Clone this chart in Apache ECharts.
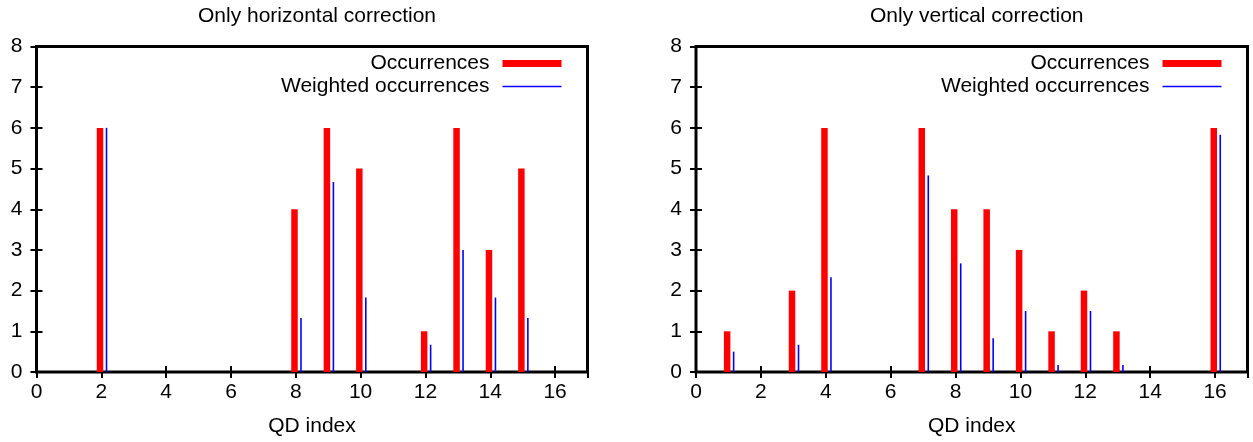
<!DOCTYPE html>
<html>
<head>
<meta charset="utf-8">
<script src="https://cdn.jsdelivr.net/npm/echarts@6/dist/echarts.min.js"></script>
<style>
  html, body { margin: 0; padding: 0; background: #fff; }
  #chart { width: 1253px; height: 442px; }
</style>
</head>
<body>
<div id="chart"></div>
<script>
// QD indices 0..16
const qdIndex = [0, 1, 2, 3, 4, 5, 6, 7, 8, 9, 10, 11, 12, 13, 14, 15, 16];

// Panel 1: only horizontal correction
const horizOccurrences = [0, 0, 6, 0, 0, 0, 0, 0, 4, 6, 5, 0, 1, 6, 3, 5, 0];
const horizWeighted    = [0, 0, 6, 0, 0, 0, 0, 0, 1.33, 4.67, 1.83, 0, 0.67, 3, 1.83, 1.33, 0];

// Panel 2: only vertical correction
const vertOccurrences = [0, 1, 0, 2, 6, 0, 0, 6, 4, 4, 3, 1, 2, 1, 0, 0, 6];
const vertWeighted    = [0, 0.5, 0, 0.67, 2.33, 0, 0, 4.83, 2.67, 0.83, 1.5, 0.17, 1.5, 0.17, 0, 0, 5.83];

const panelTitles = ['Only horizontal correction', 'Only vertical correction'];
const xAxisName = 'QD index';
const seriesNames = ['Occurrences', 'Weighted occurrences'];
const xTicks = [0, 2, 4, 6, 8, 10, 12, 14, 16];
const yTicks = [0, 1, 2, 3, 4, 5, 6, 7, 8];

const FONT = '"Liberation Sans", Arial, Helvetica, sans-serif';
const FS = 21;

function pairs(values) {
  return qdIndex.map((q, i) => [q, values[i]]).filter(p => p[1] > 0);
}

// thick red box slightly left of the index, thin blue impulse to its right
function boxRenderer(offset, halfWidth) {
  return function (params, api) {
    const x = api.value(0), v = api.value(1);
    const p0 = api.coord([x + offset - halfWidth, v]);
    const p1 = api.coord([x + offset + halfWidth, 0]);
    return {
      type: 'rect',
      shape: { x: p0[0], y: p0[1], width: p1[0] - p0[0], height: p1[1] - p0[1] },
      style: { fill: '#ff0000' }
    };
  };
}
function impulseRenderer(offset, px) {
  return function (params, api) {
    const x = api.value(0), v = api.value(1);
    const top = api.coord([x + offset, v]);
    const bot = api.coord([x + offset, 0]);
    return {
      type: 'rect',
      shape: { x: top[0] - px / 2, y: top[1], width: px, height: bot[1] - top[1] },
      style: { fill: '#0000ff' }
    };
  };
}

const grids = [
  { left: 36.5, width: 551, top: 46.5, height: 327.5 },
  { left: 696, width: 551.5, top: 46.5, height: 327.5 }
];

const option = {
  animation: false,
  backgroundColor: '#ffffff',
  textStyle: { fontFamily: FONT, color: '#000' },
  title: grids.map((g, i) => ({
    text: panelTitles[i],
    left: g.left + g.width / 2,
    textAlign: 'center',
    top: 1,
    textStyle: { fontFamily: FONT, fontSize: FS, fontWeight: 'normal', color: '#000' }
  })),
  grid: grids.map(g => Object.assign({ show: true, borderColor: '#000', borderWidth: 3, backgroundColor: 'transparent' }, g)),
  legend: [],
  xAxis: [],
  yAxis: [],
  series: []
};

grids.forEach((g, gi) => {
  const rightEdge = 1253 - (g.left + g.width);
  // legend rows: thick red sample, thin blue sample
  option.legend.push({
    data: [seriesNames[0]], orient: 'vertical', align: 'right',
    right: rightEdge + 21, top: 48, itemWidth: 59, itemHeight: 7, icon: 'rect',
    textStyle: { fontFamily: FONT, fontSize: FS, color: '#000', padding: [0, 8, 0, 0] },
    selectedMode: false
  });
  option.legend.push({
    data: [seriesNames[1]], orient: 'vertical', align: 'right',
    right: rightEdge + 21, top: 71, itemWidth: 59, itemHeight: 1.5, icon: 'rect',
    textStyle: { fontFamily: FONT, fontSize: FS, color: '#000', padding: [0, 8, 0, 0] },
    selectedMode: false
  });

  const tickLabel = v => (xTicks.indexOf(v) >= 0 ? String(v) : '');
  option.xAxis.push({
    type: 'value', gridIndex: gi, min: 0, max: 17, interval: 2, position: 'bottom',
    name: xAxisName, nameLocation: 'middle', nameGap: 44,
    nameTextStyle: { fontFamily: FONT, fontSize: FS, color: '#000' },
    axisLine: { show: false },
    axisTick: { show: true, inside: true, length: 6, lineStyle: { color: '#000', width: 2 } },
    axisLabel: { formatter: tickLabel, fontFamily: FONT, fontSize: FS, color: '#000', margin: 10 },
    splitLine: { show: false }
  });
  option.xAxis.push({
    type: 'value', gridIndex: gi, min: 0, max: 17, interval: 2, position: 'top',
    axisLine: { show: false },
    axisTick: { show: true, inside: true, length: 6, lineStyle: { color: '#000', width: 2 } },
    axisLabel: { show: false }, splitLine: { show: false }
  });
  option.yAxis.push({
    type: 'value', gridIndex: gi, min: yTicks[0], max: yTicks[yTicks.length - 1], interval: 1, position: 'left',
    axisLine: { show: false },
    axisTick: { show: true, inside: true, length: 6, lineStyle: { color: '#000', width: 2 } },
    axisLabel: { fontFamily: FONT, fontSize: FS, color: '#000', margin: 14 },
    splitLine: { show: false }
  });
  option.yAxis.push({
    type: 'value', gridIndex: gi, min: yTicks[0], max: yTicks[yTicks.length - 1], interval: 1, position: 'right',
    axisLine: { show: false },
    axisTick: { show: true, inside: true, length: 6, lineStyle: { color: '#000', width: 2 } },
    axisLabel: { show: false }, splitLine: { show: false }
  });

  const occ = gi === 0 ? horizOccurrences : vertOccurrences;
  const wtd = gi === 0 ? horizWeighted : vertWeighted;
  option.series.push({
    type: 'custom', name: seriesNames[0], xAxisIndex: gi * 2, yAxisIndex: gi * 2,
    itemStyle: { color: '#ff0000' },
    renderItem: boxRenderer(-0.04, 0.1), data: pairs(occ)
  });
  option.series.push({
    type: 'custom', name: seriesNames[1], xAxisIndex: gi * 2, yAxisIndex: gi * 2,
    itemStyle: { color: '#0000ff' },
    renderItem: impulseRenderer(0.16, 1.6), data: pairs(wtd)
  });
});

const chart = echarts.init(document.getElementById('chart'), null, { renderer: 'canvas' });
chart.setOption(option);
</script>
</body>
</html>
